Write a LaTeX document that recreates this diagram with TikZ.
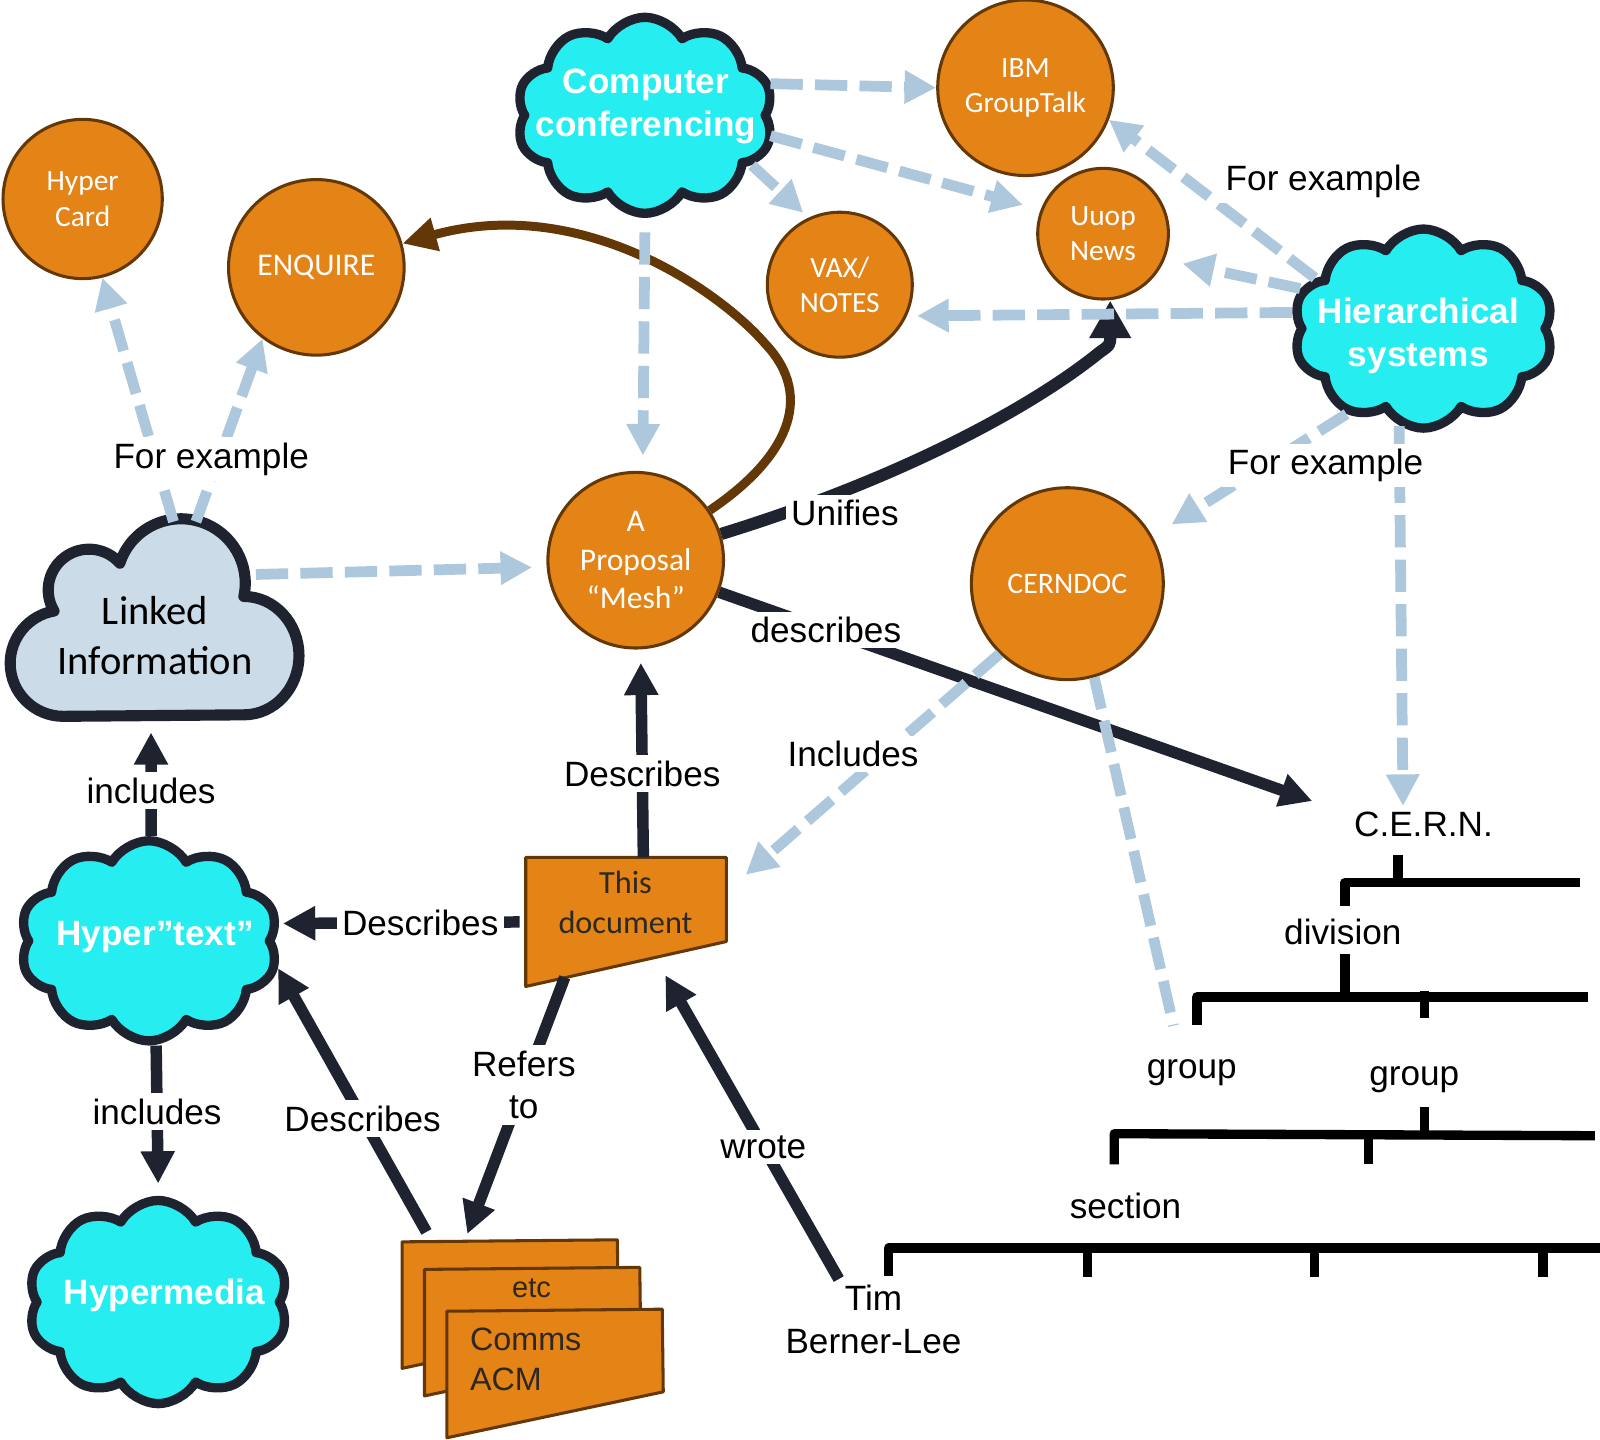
\documentclass[tikz,border=0pt]{standalone}
\usepackage{fontspec}
\setmainfont{Liberation Sans}
\newfontfamily\calibri{Carlito}
\usetikzlibrary{arrows.meta,shapes.symbols}

\definecolor{arancio}{RGB}{228,131,22}
\definecolor{marrone}{RGB}{99,56,6}
\definecolor{ciano}{RGB}{38,238,240}
\definecolor{scuro}{RGB}{31,35,48}
\definecolor{azzurro}{RGB}{173,200,221}
\definecolor{grigioblu}{RGB}{203,220,232}
\definecolor{testo}{RGB}{45,40,35}

\begin{document}
\begin{tikzpicture}[x=0.01cm, y=-0.01cm, line join=round,
    cerchio/.style={circle, draw=marrone, line width=0.85pt, fill=arancio, text=white, align=center, inner sep=0pt,
        font=\calibri\fontsize{8.2pt}{9.9pt}\selectfont},
    nuvola/.style={cloud, cloud puffs=10, cloud puff arc=120, cloud ignores aspect, draw=scuro, line width=2.6pt,
        fill=ciano, inner sep=0pt},
    titolo/.style={text=white, align=center, font=\fontsize{9.8pt}{11.9pt}\selectfont\bfseries},
    etichetta/.style={fill=white, align=center, inner sep=1.5pt, font=\fontsize{9.8pt}{11.9pt}\selectfont},
    esempio/.style={draw=azzurro, line width=3pt, dash pattern=on 9pt off 3.4pt, -{Triangle[length=8.8pt,width=8.8pt]}},
    freccia/.style={draw=scuro, line width=3.2pt, -{Triangle[length=9pt,width=9pt]}},
    albero/.style={draw=black, line width=2.6pt},
    foglio/.style={draw=marrone, line width=0.85pt, fill=arancio}]

    \useasboundingbox (0,0) rectangle (1568,1411);

    % Nuvole
    \node[nuvola, minimum width=2.52cm, minimum height=1.92cm] (conf) at (632,113) {};
    \node[titolo] (conft) at (633,104) {Computer\\conferencing};
    \node[nuvola, minimum width=2.55cm, minimum height=1.95cm] (hier) at (1395,322) {};
    \node[titolo] (hiert) at (1390,329) {Hierarchical\\systems};
    \node[nuvola, minimum width=2.53cm, minimum height=1.96cm] (ht) at (146,922) {};
    \node[titolo] (htt) at (152,918) {Hyper”text”};
    \node[nuvola, minimum width=2.55cm, minimum height=1.99cm] (hm) at (155,1276) {};
    \node[titolo] (hmt) at (161,1269) {Hypermedia};

    % Nuvola Linked Information
    \draw[draw=scuro, line width=3.1pt, fill=grigioblu] (62,702)
        arc[start angle=90, end angle=260, radius=52]
        arc[start angle=149, end angle=319, radius=40]
        arc[start angle=198, end angle=372, radius=63]
        arc[start angle=270, end angle=450, x radius=54, y radius=58]
        -- cycle;
    \node[minimum width=2.9cm, minimum height=1.96cm, inner sep=0pt] (linked) at (152,605) {};
    \node[align=center, font=\calibri\fontsize{11.3pt}{14pt}\selectfont] (linkedt) at (152,623) {Linked\\Information};

    % Cerchi
    \node[cerchio, minimum size=1.56cm] (hcard) at (81,195) {Hyper\\Card};
    \node[cerchio, minimum size=1.72cm, font=\calibri\fontsize{8.8pt}{10.8pt}\selectfont] (enq) at (310,262) {ENQUIRE};
    \node[cerchio, minimum size=1.42cm] (vax) at (823,279) {VAX/\\NOTES};
    \node[cerchio, minimum size=1.72cm] (ibm) at (1005,86) {IBM\\GroupTalk};
    \node[cerchio, minimum size=1.28cm] (uuop) at (1081,229) {Uuop\\News};
    \node[cerchio, minimum size=1.72cm, font=\calibri\fontsize{8.8pt}{10.8pt}\selectfont] (prop) at (623,549) {A\\Proposal\\“Mesh”};
    \node[cerchio, minimum size=1.88cm, font=\calibri\fontsize{8.3pt}{10pt}\selectfont] (cdoc) at (1046,572) {CERNDOC};

    % Questo documento
    \node[minimum width=1.95cm, minimum height=1.25cm, inner sep=0pt] (doc) at (613.5,903.5) {};
    \draw[foglio] (doc.north west) -- (doc.north east) -- ([yshift=0.44cm]doc.south east) -- (doc.south west) -- cycle;
    \node[text=testo, align=center, font=\calibri\fontsize{9pt}{11.1pt}\selectfont] (doct) at (613,884) {This\\document};

    % Pila di articoli
    \node[minimum width=2.57cm, minimum height=1.93cm, inner sep=0pt] (stack) at (522.5,1311.5) {};
    \foreach \x/\y in {394/1217, 416/1244, 438/1285}
        \draw[foglio] (\x,\y) -- ++(211,-2) -- ++(1,81) -- (\x,\y+124) -- cycle;
    \node[text=testo, font=\fontsize{8.1pt}{9pt}\selectfont] (etc) at (521,1262) {etc};
    \node[text=testo, align=left, anchor=west, inner sep=0pt, font=\fontsize{9pt}{11.1pt}\selectfont] (acm) at (460,1332) {Comms\\ACM};

    % Albero C.E.R.N.
    \draw[albero] (1370,838) -- (1370,865);
    \draw[albero] (1318,888) -- (1318,865) -- (1548,865);
    \draw[albero] (1318,935) -- (1318,977);
    \draw[albero] (1173,1004) -- (1173,977) -- (1556,977);
    \draw[albero] (1396,971) -- (1396,998);
    \draw[albero] (1396,1085) -- (1396,1111);
    \draw[albero] (1092,1141) -- (1092,1111) -- (1563,1113);
    \draw[albero] (1341,1113) -- (1341,1141);
    \draw[albero] (871,1250) -- (871,1223) -- (1568,1223);
    \foreach \x in {1066,1288,1512}
        \draw[albero] (\x,1223) -- (\x,1251);
    \node[etichetta] (cern) at (1395,808) {C.E.R.N.};
    \node[etichetta] (div) at (1316,913) {division};
    \node[etichetta] (grp1) at (1168,1051) {group};
    \node[etichetta] (grp2) at (1386,1058) {group};
    \node[etichetta] (sect) at (1103,1182) {section};
    \node[etichetta] (tim) at (856,1293) {Tim\\Berner-Lee};

    % Frecce scure
    \draw[marrone, line width=2.5pt, -{Triangle[length=9.5pt,width=9pt]}] (prop)
        .. controls (770,450) and (800,390) .. (750,337)
        .. controls (705,285) and (570,190) .. (enq);
    \draw[freccia, line width=3.4pt, -{Triangle[length=10.5pt,width=11pt]}] (prop)
        .. controls (880,470) and (1010,400) .. (1078,345)
        .. controls (1088,338) .. ([xshift=0.07cm]uuop.south);
    \node[etichetta] (unif) at (828,503) {Unifies};
    \draw[freccia] (prop.-21) -- ([xshift=-0.35cm,yshift=0.23cm]cern.west)
        node[etichetta, pos=0.18] (descr) {describes};
    \draw[freccia] ([xshift=0.17cm]doc.north) -- ([xshift=0.05cm,yshift=-0.13cm]prop.south)
        node[etichetta, pos=0.43] (descr2) {Describes};
    \draw[freccia] ([xshift=-0.06cm]doc.west) -- ([xshift=0.08cm,yshift=0.17cm]ht.east)
        node[etichetta, pos=0.42] (descr3) {Describes};
    \draw[freccia] ([xshift=-0.6cm,yshift=0.09cm]doc.south) -- ([xshift=-0.645cm,yshift=0.05cm]stack.north)
        node[etichetta, pos=0.42] (refers) {Refers\\to};
    \draw[freccia] ([xshift=-1.045cm,yshift=0.07cm]stack.north) -- (ht.-12)
        node[etichetta, pos=0.43] (descr4) {Describes};
    \draw[freccia] ([xshift=-0.34cm]tim.north) -- ([xshift=0.385cm,yshift=0.11cm]doc.south)
        node[etichetta, pos=0.435] (wrote) {wrote};
    \draw[freccia] ([xshift=0.02cm]ht.north) -- ([xshift=-0.04cm,yshift=-0.14cm]linked.south)
        node[etichetta, pos=0.44] (incl1) {includes};
    \draw[freccia] ([xshift=0.07cm]ht.south) -- ([yshift=0.12cm]hm.north)
        node[etichetta, pos=0.48] (incl2) {includes};

    % Frecce tratteggiate
    \draw[esempio] ([xshift=0.18cm,yshift=-0.05cm]linked.north) -- (hcard.-76);
    \draw[esempio] ([xshift=0.4cm,yshift=-0.05cm]linked.north) -- (enq.-127);
    \draw[esempio] ([xshift=-0.47cm,yshift=0.42cm]linked.east) -- ([xshift=-0.14cm,yshift=-0.07cm]prop.west);
    \draw[esempio] ([yshift=-0.14cm]conf.south) -- ([xshift=0.07cm,yshift=0.15cm]prop.north);
    \draw[esempio] ([yshift=0.31cm]conf.east) -- (ibm.west);
    \draw[esempio, shorten >=0.18cm] ([yshift=-0.2cm]conf.east) -- (uuop.159);
    \draw[esempio, shorten >=0.07cm] (conf.-25) -- (vax.115);
    \draw[esempio] (hier.155) -- (ibm.-21);
    \draw[esempio, shorten >=0.18cm] (hier.162) -- (uuop.-23);
    \draw[esempio, shorten >=0.1cm] (hier.173) -- (vax.-25);
    \draw[esempio, shorten >=0.22cm] (hier.-132) -- (cdoc.29);
    \draw[esempio] (hier.-104) -- ([xshift=-0.2cm]cern.north);
    \draw[esempio] (cdoc.-134) -- ([xshift=0.19cm,yshift=-0.17cm]doc.north east);
    \draw[esempio, -] (cdoc.-74) -- ([xshift=-0.18cm,yshift=0.27cm]grp1.north);
    \node[etichetta] (fe1) at (207,450) {For example};
    \node[etichetta] (fe2) at (1297,178) {For example};
    \node[etichetta] (fe3) at (1299,456) {For example};
    \node[etichetta] (incl) at (836,739) {Includes};

\end{tikzpicture}
\end{document}
